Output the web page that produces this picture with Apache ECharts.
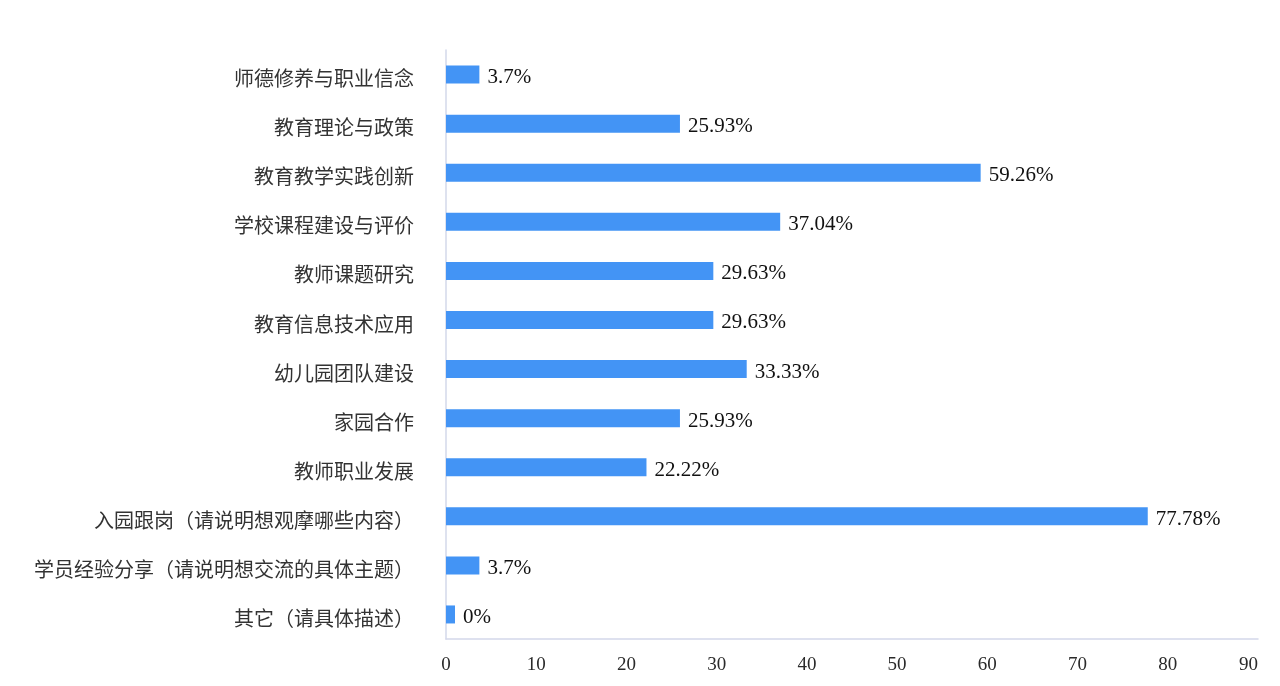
<!DOCTYPE html>
<html>
<head>
<meta charset="utf-8">
<script src="https://cdn.jsdelivr.net/npm/echarts@6/dist/echarts.min.js"></script>
<style>
html,body{margin:0;padding:0;background:#fff;}
#chart{width:1280px;height:686px;}
</style>
</head>
<body>
<div id="chart"></div>
<script>
var categories = [
  '师德修养与职业信念',
  '教育理论与政策',
  '教育教学实践创新',
  '学校课程建设与评价',
  '教师课题研究',
  '教育信息技术应用',
  '幼儿园团队建设',
  '家园合作',
  '教师职业发展',
  '入园跟岗（请说明想观摩哪些内容）',
  '学员经验分享（请说明想交流的具体主题）',
  '其它（请具体描述）'
];
var values = [3.7, 25.93, 59.26, 37.04, 29.63, 29.63, 33.33, 25.93, 22.22, 77.78, 3.7, 0];
var xTicks = { min: 0, max: 90, interval: 10 };

var chart = echarts.init(document.getElementById('chart'));
chart.setOption({
  animation: false,
  grid: { left: 446, right: 22, top: 50, bottom: 47, containLabel: false },
  xAxis: {
    type: 'value',
    min: xTicks.min, max: xTicks.max, interval: xTicks.interval,
    axisLine: { show: true, lineStyle: { color: '#d3d8ea', width: 1.5 } },
    axisTick: { show: false },
    splitLine: { show: false },
    axisLabel: {
      color: '#2a2a2a', fontSize: 19, margin: 17,
      fontFamily: '"Liberation Serif", "Times New Roman", serif',
      alignMaxLabel: 'right'
    }
  },
  yAxis: {
    type: 'category',
    inverse: true,
    data: categories,
    axisLine: { show: true, lineStyle: { color: '#d3d8ea', width: 1.5 } },
    axisTick: { show: false },
    axisLabel: {
      color: '#333', fontSize: 20, margin: 32,
      verticalAlign: 'top', lineHeight: 8,
      fontFamily: '"Noto Sans CJK SC", sans-serif'
    }
  },
  series: [{
    type: 'bar',
    data: values,
    barWidth: 18,
    barMinHeight: 9,
    itemStyle: { color: '#4394f5' },
    label: {
      show: true, position: 'right', distance: 8,
      offset: [0, 3],
      formatter: function (p) { return p.value + '%'; },
      color: '#111', fontSize: 21,
      fontFamily: '"Liberation Serif", "Times New Roman", serif'
    }
  }]
});
</script>
</body>
</html>
